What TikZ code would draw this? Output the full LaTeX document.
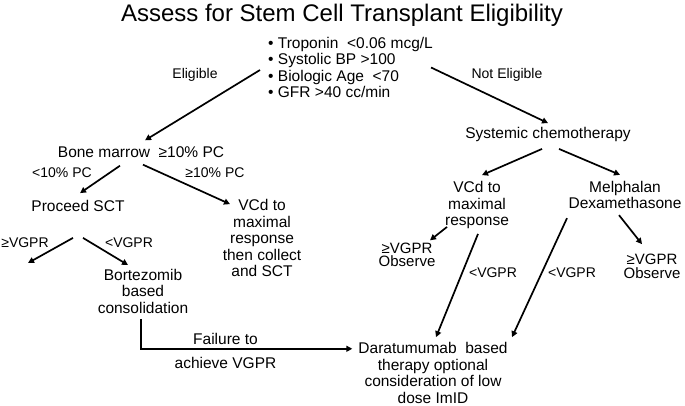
\documentclass[tikz,border=0pt]{standalone}
\usepackage{fontspec}
\setmainfont{Liberation Sans}
\usetikzlibrary{arrows.meta, positioning}

\begin{document}
\begin{tikzpicture}[x=1pt, y=-1pt,
  every node/.style={inner sep=0pt, font=\fontsize{15.5}{16.5}\selectfont},
  heading/.style={font=\fontsize{24}{28}\selectfont},
  box/.style={align=center},
  tight/.style={align=center, font=\fontsize{15}{13.5}\selectfont},
  lbl/.style={font=\fontsize{14}{16}\selectfont},
  arr/.style={-{Triangle[length=6pt, width=6pt]}, line width=1.7pt},
]
\useasboundingbox (0,0) rectangle (685,405);

% title and criteria
\node[heading] (title) at (342,15.4) {Assess for Stem Cell Transplant Eligibility};
\node[align=left, anchor=west, font=\fontsize{15.5}{16.3}\selectfont] (crit) at (268,67.5)
  {• Troponin~ <0.06 mcg/L\\ • Systolic BP >100\\ • Biologic Age~ <70\\ • GFR >40 cc/min};
\node[lbl] (elig) at (195,75) {Eligible};
\node[lbl] (nelig) at (507,75) {Not Eligible};

% eligible branch
\node (bm) at (141,152) {Bone marrow ~≥10\% PC};
\node[lbl] (lt10) at (62,173) {<10\% PC};
\node[lbl] (ge10) at (215,173) {≥10\% PC};
\node (sct) at (78,206) {Proceed SCT};
\node[box] (vcdA) at (262,238) {VCd to\\maximal\\response\\then collect\\and SCT};
\node[lbl] (geA) at (25,243) {≥VGPR};
\node[lbl] (ltA) at (129,243) {<VGPR};
\coordinate (geEnd) at (28,263);
\node[box] (bort) at (143,291.4) {Bortezomib\\based\\consolidation};

% not eligible branch
\node (chemo) at (548,134.5) {Systemic chemotherapy};
\node[box] (vcdB) at (477,205) {VCd to\\maximal\\response};
\node[box] (melph) at (625,195) {Melphalan\\Dexamethasone};
\node[tight] (obsB) at (407,254.6) {≥VGPR\\Observe};
\node[tight] (obsC) at (652,266.4) {≥VGPR\\Observe};
\node[lbl] (ltB) at (493,273) {<VGPR};
\node[lbl] (ltC) at (572,273) {<VGPR};
\node[box] (dara) at (433,372.8) {Daratumumab~ based\\therapy optional\\consideration of low\\dose ImID};

% arrows
\draw[arr] ([shift={(-8,2.5)}]crit.west) -- ([shift={(4,-6)}]bm.north);
\draw[arr] ([shift={(-2,0)}]crit.east) -- ([shift={(0,-4)}]chemo.north);

\draw[arr] ([shift={(-21,8)}]bm.south) -- ([shift={(2,-7)}]sct.north);
\draw[arr] ([shift={(2,7)}]bm.south) -- ([shift={(-32,5)}]vcdA.north);
\draw[arr] ([shift={(-5,26)}]sct.south) -- (geEnd);
\draw[arr] ([shift={(5,26)}]sct.south) -- ([shift={(-15,-4)}]bort.north);
\draw[arr] ([shift={(-2,5)}]bort.south) |- ([shift={(-6,6.6)}]dara.north west)
  node[pos=0.7, above=3pt] (fail) {Failure to}
  node[pos=0.7, below=8pt] (ach) {achieve VGPR};

\draw[arr] ([shift={(-6,7)}]chemo.south) -- ([shift={(5,-6)}]vcdB.north);
\draw[arr] ([shift={(11,7)}]chemo.south) -- ([shift={(-5,-6)}]melph.north);
\draw[arr] ([shift={(-30,-2)}]vcdB.south) -- ([shift={(23,-2)}]obsB.north);
\draw[arr] ([shift={(1,5)}]vcdB.south) -- ([shift={(3,-5)}]dara.north);
\draw[arr] ([shift={(-58,9)}]melph.south) -- ([shift={(79,-5)}]dara.north);
\draw[arr] ([shift={(-6,6)}]melph.south) -- ([shift={(-10,-10)}]obsC.north);
\end{tikzpicture}
\end{document}
